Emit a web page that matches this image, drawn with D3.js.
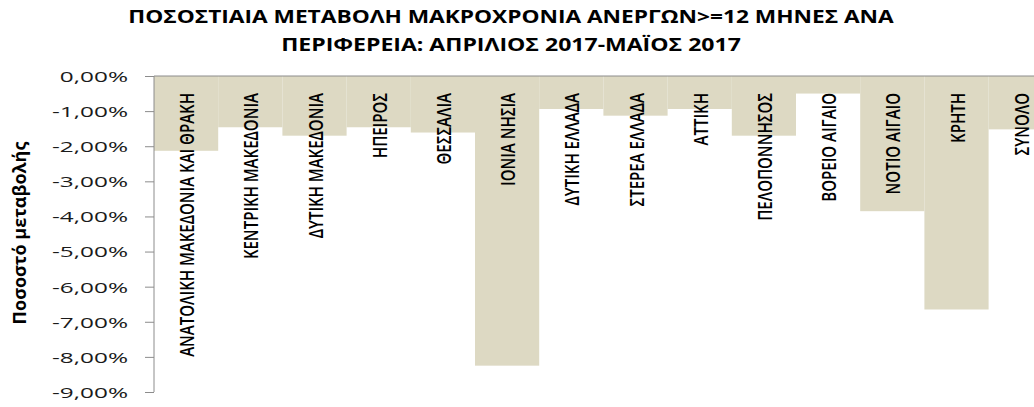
<!DOCTYPE html>
<html><head><meta charset="utf-8">
<script src="https://cdn.jsdelivr.net/npm/d3@7"></script>
<style>body{margin:0;background:#fff}</style>
</head><body>
<svg id="c" width="1034" height="407"></svg>
<script>
const categories = ["ΑΝΑΤΟΛΙΚΗ ΜΑΚΕΔΟΝΙΑ ΚΑΙ ΘΡΑΚΗ","ΚΕΝΤΡΙΚΗ ΜΑΚΕΔΟΝΙΑ","ΔΥΤΙΚΗ ΜΑΚΕΔΟΝΙΑ","ΗΠΕΙΡΟΣ","ΘΕΣΣΑΛΙΑ","ΙΟΝΙΑ ΝΗΣΙΑ","ΔΥΤΙΚΗ ΕΛΛΑΔΑ","ΣΤΕΡΕΑ ΕΛΛΑΔΑ","ΑΤΤΙΚΗ","ΠΕΛΟΠΟΝΝΗΣΟΣ","ΒΟΡΕΙΟ ΑΙΓΑΙΟ","ΝΟΤΙΟ ΑΙΓΑΙΟ","ΚΡΗΤΗ","ΣΥΝΟΛΟ"];
const values = [-2.13,-1.46,-1.70,-1.46,-1.61,-8.25,-0.94,-1.13,-0.94,-1.70,-0.50,-3.85,-6.65,-1.52];
const yTicks = [0,-1,-2,-3,-4,-5,-6,-7,-8,-9];
const titleLines = ["ΠΟΣΟΣΤΙΑΙΑ ΜΕΤΑΒΟΛΗ ΜΑΚΡΟΧΡΟΝΙΑ ΑΝΕΡΓΩΝ>=12 ΜΗΝΕΣ ΑΝΑ","ΠΕΡΙΦΕΡΕΙΑ: ΑΠΡΙΛΙΟΣ 2017-ΜΑΪΟΣ 2017"];
const yTitle = "Ποσοστό μεταβολής";

const svg = d3.select("#c");
const mLeft = 154, mTop = 76, mBottom = 392, mRight = 154 + 14*64.2;
const x = d3.scaleBand().domain(categories).range([mLeft, mRight]).padding(0);
const y = d3.scaleLinear().domain([0,-9]).range([mTop, mBottom]);

svg.selectAll("rect.bar").data(values).join("rect")
  .attr("class","bar")
  .attr("x",(d,i)=>x(categories[i]))
  .attr("width",x.bandwidth())
  .attr("y",y(0))
  .attr("height",d=>y(d)-y(0))
  .attr("fill","#DDD9C3");

// y axis
const yAxis = d3.axisLeft(y).tickValues(yTicks).tickSize(9).tickPadding(0)
  .tickFormat(d=>d3.format(".2f")(d).replace("−","-").replace(".",",")+"%");
const ga = svg.append("g").attr("transform",`translate(${mLeft},0)`).call(yAxis);
ga.select(".domain").attr("stroke","#8c8c8c").attr("d",`M0,${mTop}V${mBottom}`);
ga.selectAll(".tick line").attr("stroke","#8c8c8c");
const tt = ga.selectAll(".tick text")
  .attr("font-family","'Open Sans', sans-serif").attr("font-size",15).attr("fill","#1a1a1a")
  .attr("x",0).attr("dy","0.36em");
// fit widths: widest label "-9,00%" spans ~76px ending at x=128
let maxW = 0; tt.each(function(){ maxW = Math.max(maxW, this.getComputedTextLength()); });
const tsx = 76/maxW;
tt.attr("transform",`translate(-26,0) scale(${tsx},1)`);

// zero line
svg.append("line").attr("x1",mLeft).attr("x2",1034).attr("y1",y(0)).attr("y2",y(0)).attr("stroke","#8c8c8c");

// category labels
const capH = 14;
const cat = svg.selectAll("text.cat").data(categories).join("text")
  .attr("class","cat")
  .attr("text-anchor","end")
  .attr("font-family","'Open Sans', sans-serif")
  .attr("font-weight",600)
  .attr("font-size",19.5)
  .attr("fill","#000")
  .text(d=>d);
const L0 = cat.node().getComputedTextLength();
const k = 264/L0;
cat.attr("transform",d=>`translate(${x(d)+x.bandwidth()/2+capH/2+1},93) rotate(-90) scale(${k},1)`);

// title
const titleW = [766, 460];
svg.selectAll("text.title").data(titleLines).join("text")
  .attr("class","title")
  .attr("text-anchor","middle")
  .attr("font-family","'Open Sans', sans-serif").attr("font-weight","bold").attr("font-size",18)
  .attr("fill","#000")
  .text(d=>d)
  .each(function(d,i){
    const w = this.getComputedTextLength();
    d3.select(this).attr("transform",`translate(511,${23+i*27.5}) scale(${titleW[i]/w},1)`);
  });

svg.append("text").attr("transform","translate(26,233) rotate(-90)")
  .attr("text-anchor","middle")
  .attr("font-family","'Open Sans', sans-serif").attr("font-weight","bold").attr("font-size",18)
  .text(yTitle);
</script>
</body></html>
